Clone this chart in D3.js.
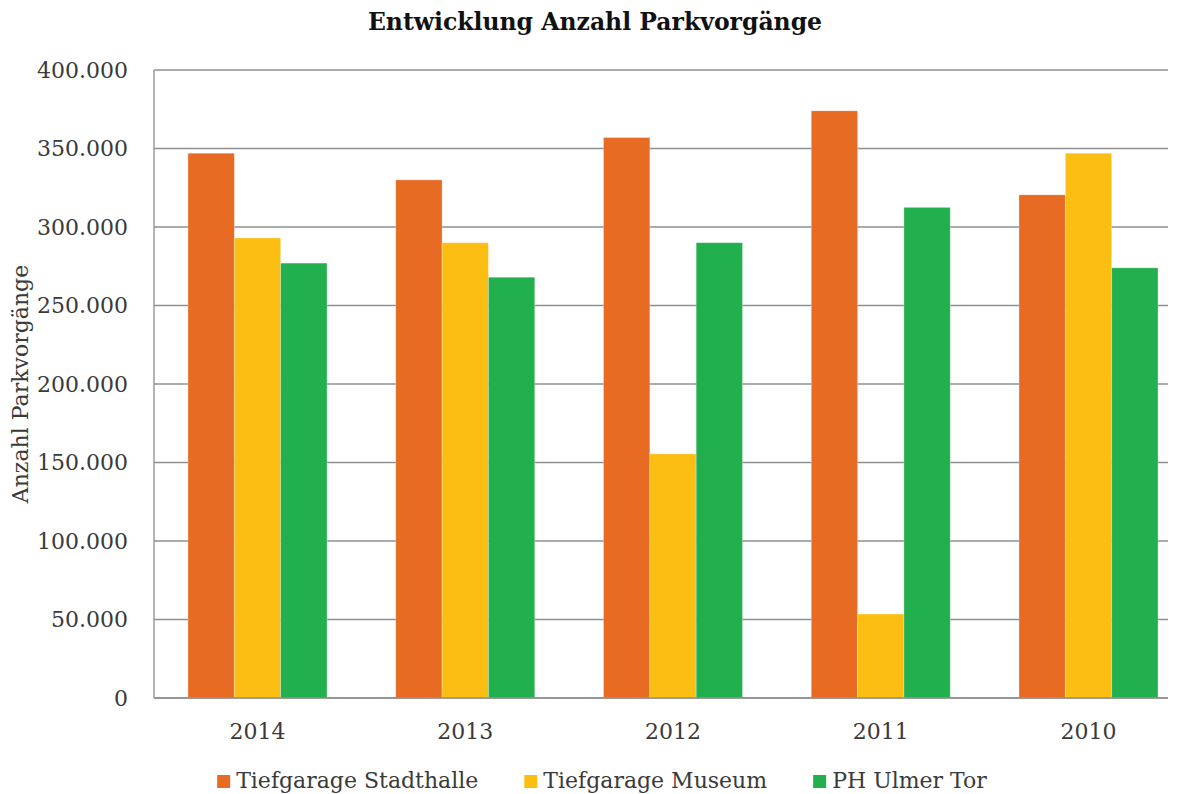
<!DOCTYPE html>
<html>
<head>
<meta charset="utf-8">
<script src="https://cdn.jsdelivr.net/npm/d3@7"></script>
<style>
  html, body { margin: 0; padding: 0; background: #fff; }
  svg { display: block; }
  text { font-family: "DejaVu Serif", serif; fill: #3a3a3a; }
</style>
</head>
<body>
<div id="chart"></div>
<script>
// data
const years = ['2014', '2013', '2012', '2011', '2010'];
const seriesNames = ['Tiefgarage Stadthalle', 'Tiefgarage Museum', 'PH Ulmer Tor'];
const stadthalle = [347000, 330000, 357000, 374000, 320500];
const museum = [293000, 290000, 155500, 53500, 347000];
const ulmerTor = [277000, 268000, 290000, 312500, 274000];
const yTicks = [0, 50000, 100000, 150000, 200000, 250000, 300000, 350000, 400000];
const colors = ['#e76b23', '#fdbe14', '#22b04f'];

const width = 1182, height = 794;
const margin = {top: 70, right: 14, bottom: 96, left: 154};

const svg = d3.select('#chart')
  .append('svg')
  .attr('width', width)
  .attr('height', height);

// the category band runs a little past the gridlines' right end, as in the original
const x = d3.scaleBand()
  .domain(years)
  .range([margin.left, 1192])
  .paddingInner(0.331)
  .paddingOuter(0.1637);

const xs = d3.scaleBand()
  .domain(seriesNames)
  .range([0, x.bandwidth()]);

const y = d3.scaleLinear()
  .domain([0, 400000])
  .range([height - margin.bottom, margin.top]);

const fmt = v => d3.format(',')(v).replace(/,/g, '.');

// gridlines
svg.append('g')
  .selectAll('line')
  .data(yTicks)
  .join('line')
    .attr('x1', margin.left)
    .attr('x2', width - margin.right)
    .attr('y1', d => y(d))
    .attr('y2', d => y(d))
    .attr('stroke', '#8f8f8f')
    .attr('stroke-width', 1.3);

// y axis line
svg.append('line')
  .attr('x1', margin.left).attr('x2', margin.left)
  .attr('y1', y(400000)).attr('y2', y(0))
  .attr('stroke', '#8f8f8f')
  .attr('stroke-width', 1.3);

// y tick labels
svg.append('g')
  .selectAll('text')
  .data(yTicks)
  .join('text')
    .attr('x', 128)
    .attr('y', d => y(d))
    .attr('dy', '0.36em')
    .attr('text-anchor', 'end')
    .style('font-size', '22px')
    .text(fmt);

// bars
const series = [stadthalle, museum, ulmerTor];
const rows = [];
series.forEach((vals, s) => vals.forEach((v, i) => rows.push({year: years[i], name: seriesNames[s], s, v})));

svg.append('g')
  .selectAll('rect')
  .data(rows)
  .join('rect')
    .attr('x', d => x(d.year) + xs(d.name))
    .attr('y', d => y(d.v))
    .attr('width', xs.bandwidth())
    .attr('height', d => y(0) - y(d.v))
    .attr('fill', d => colors[d.s])
    .attr('stroke', '#ffffff')
    .attr('stroke-opacity', 0.35)
    .attr('stroke-width', 0.8);

// x axis line on top of bars
svg.append('line')
  .attr('x1', margin.left).attr('x2', width - margin.right)
  .attr('y1', y(0)).attr('y2', y(0))
  .attr('stroke', '#8f8f8f')
  .attr('stroke-width', 1.3);

// x tick labels
svg.append('g')
  .selectAll('text')
  .data(years)
  .join('text')
    .attr('x', d => x(d) + x.bandwidth() / 2)
    .attr('y', 739)
    .attr('text-anchor', 'middle')
    .style('font-size', '22px')
    .text(d => d);

// title
svg.append('text')
  .attr('x', 595)
  .attr('y', 30)
  .attr('text-anchor', 'middle')
  .style('font-size', '23.5px')
  .style('font-weight', 'bold')
  .style('fill', '#111')
  .text('Entwicklung Anzahl Parkvorgänge');

// y axis title
svg.append('text')
  .attr('transform', 'translate(28,384) rotate(-90)')
  .attr('text-anchor', 'middle')
  .style('font-size', '22px')
  .text('Anzahl Parkvorgänge');

// legend
const legend = svg.append('g');
const items = legend.selectAll('g')
  .data(seriesNames)
  .join('g');
items.append('rect')
  .attr('y', 775)
  .attr('width', 13)
  .attr('height', 13)
  .attr('fill', (d, i) => colors[i]);
items.append('text')
  .attr('x', 19)
  .attr('y', 788)
  .style('font-size', '22px')
  .text(d => d);

let offset = 0;
const gap = 46;
const widths = [];
items.each(function () {
  widths.push(19 + d3.select(this).select('text').node().getComputedTextLength());
});
const total = d3.sum(widths) + gap * (widths.length - 1);
offset = 602 - total / 2;
items.attr('transform', (d, i) => {
  const t = `translate(${offset},0)`;
  offset += widths[i] + gap;
  return t;
});
</script>
</body>
</html>
